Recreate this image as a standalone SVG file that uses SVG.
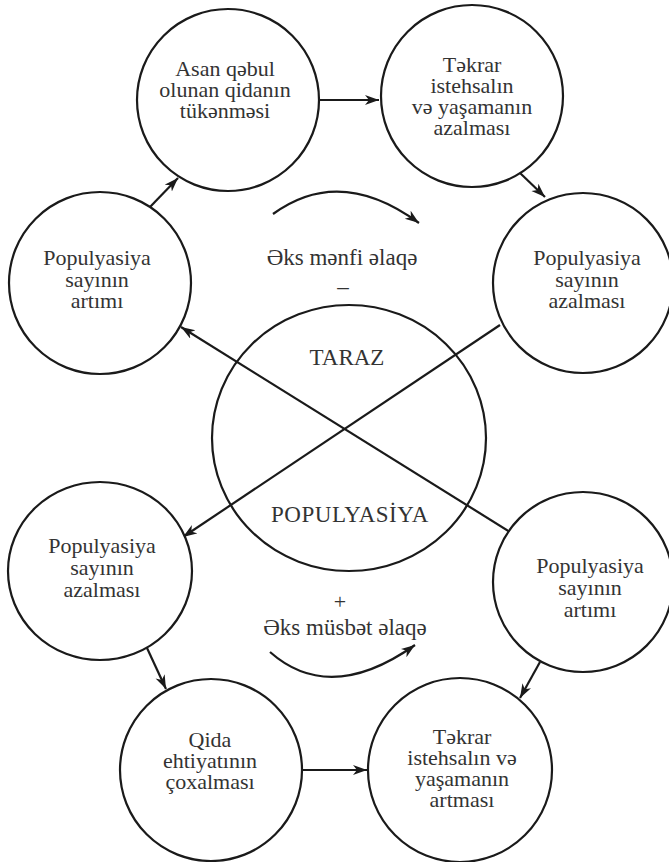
<svg xmlns="http://www.w3.org/2000/svg" width="669" height="862" viewBox="0 0 669 862">
<style>
.node{fill:#fff;stroke:#1a1a1a;stroke-width:2.2}
.t{font-family:"Liberation Serif","DejaVu Serif","Times New Roman",serif;font-size:22px;fill:#333;text-anchor:middle}
.big{font-size:23px}
.ln{fill:none;stroke:#1a1a1a;stroke-width:2.2}
</style>
<defs>
<marker id="ah" markerUnits="userSpaceOnUse" markerWidth="16" markerHeight="12" refX="14" refY="5" orient="auto">
<path d="M0,0 L14,5 L0,10 L4,5 z" fill="#1a1a1a"/>
</marker>
</defs>
<rect width="669" height="862" fill="#fff"/>
<g id="connectors">
<line class="ln" x1="320" y1="100" x2="379" y2="100" marker-end="url(#ah)"/>
<line class="ln" x1="520" y1="173" x2="545" y2="197" marker-end="url(#ah)"/>
<line class="ln" x1="150" y1="207" x2="178" y2="178" marker-end="url(#ah)"/>
<line class="ln" x1="500" y1="325" x2="183" y2="537" marker-end="url(#ah)"/>
<line class="ln" x1="510" y1="532" x2="181" y2="327" marker-end="url(#ah)"/>
<line class="ln" x1="147" y1="648" x2="166" y2="689" marker-end="url(#ah)"/>
<line class="ln" x1="540" y1="662" x2="520" y2="698" marker-end="url(#ah)"/>
<line class="ln" x1="303" y1="770" x2="367" y2="770" marker-end="url(#ah)"/>
<path class="ln" d="M273,214 Q340,165 419,223" marker-end="url(#ah)"/>
<path class="ln" d="M270,652 Q330,705 415,645" marker-end="url(#ah)"/>
</g>
<g id="center">
<ellipse cx="349" cy="438" rx="137" ry="133" fill="none" stroke="#1a1a1a" stroke-width="2.2"/>
<text class="t big" x="347" y="365">TARAZ</text>
<text class="t big" x="350" y="522" letter-spacing="0.5">POPULYASİYA</text>
</g>
<g id="n-tl">
<circle class="node" cx="228" cy="100" r="91"/>
<text class="t" x="225" y="76">Asan qəbul</text>
<text class="t" x="225" y="97">olunan qidanın</text>
<text class="t" x="225" y="118">tükənməsi</text>
</g>
<g id="n-tr">
<circle class="node" cx="472" cy="96" r="91"/>
<text class="t" x="472" y="72">Təkrar</text>
<text class="t" x="472" y="93">istehsalın</text>
<text class="t" x="472" y="114">və yaşamanın</text>
<text class="t" x="472" y="135">azalması</text>
</g>
<g id="n-l">
<circle class="node" cx="100" cy="283" r="91"/>
<text class="t" x="97" y="265">Populyasiya</text>
<text class="t" x="97" y="287">sayının</text>
<text class="t" x="97" y="308">artımı</text>
</g>
<g id="n-r">
<circle class="node" cx="583" cy="283" r="90"/>
<text class="t" x="587" y="265">Populyasiya</text>
<text class="t" x="587" y="287">sayının</text>
<text class="t" x="587" y="308">azalması</text>
</g>
<g id="n-ll">
<ellipse class="node" cx="100" cy="571" rx="92" ry="89"/>
<text class="t" x="102" y="553">Populyasiya</text>
<text class="t" x="102" y="575">sayının</text>
<text class="t" x="102" y="597">azalması</text>
</g>
<g id="n-rl">
<ellipse class="node" cx="583" cy="582" rx="90" ry="90"/>
<text class="t" x="590" y="573">Populyasiya</text>
<text class="t" x="590" y="595">sayının</text>
<text class="t" x="590" y="617">artımı</text>
</g>
<g id="n-bl">
<circle class="node" cx="211" cy="770" r="91"/>
<text class="t" x="210" y="747">Qida</text>
<text class="t" x="210" y="768">ehtiyatının</text>
<text class="t" x="210" y="789">çoxalması</text>
</g>
<g id="n-br">
<circle class="node" cx="460" cy="770" r="92"/>
<text class="t" x="462" y="744">Təkrar</text>
<text class="t" x="462" y="765">istehsalın və</text>
<text class="t" x="462" y="786">yaşamanın</text>
<text class="t" x="462" y="807">artması</text>
</g>
<g id="labels">
<text class="t big" x="342" y="265">Əks mənfi əlaqə</text>
<text class="t big" x="343" y="294">–</text>
<text class="t" x="340" y="609" font-size="18">+</text>
<text class="t big" x="345" y="635">Əks müsbət əlaqə</text>
</g>
</svg>
